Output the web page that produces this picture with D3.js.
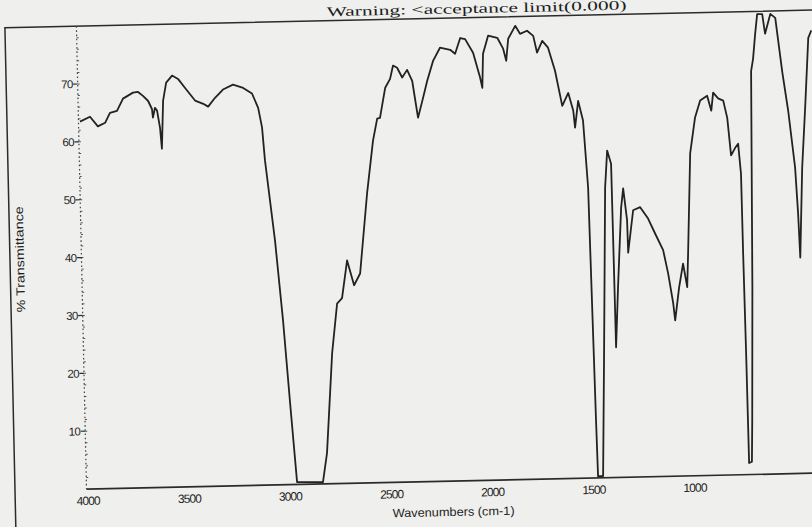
<!DOCTYPE html>
<html>
<head>
<meta charset="utf-8">
<script src="https://cdn.jsdelivr.net/npm/d3@7"></script>
<style>
  html, body { margin: 0; padding: 0; background: #efefed; overflow: hidden; }
  svg { display: block; }
</style>
</head>
<body>
<svg id="chart" width="812" height="527"></svg>
<script>
// ---- data ----
const titleText = "Warning: <acceptance limit(0.000)";
const xTitle = "Wavenumbers (cm-1)";
const yTitle = "% Transmittance";
const xTicks = [4000, 3500, 3000, 2500, 2000, 1500, 1000];
const yTicks = [10, 20, 30, 40, 50, 60, 70];

const wavenumbers = [
  4000, 3950, 3912, 3876, 3851, 3816, 3785, 3735, 3710, 3686, 3661, 3643, 3639, 3628, 3618,
  3605, 3598, 3587, 3570, 3540, 3511, 3477, 3429, 3389, 3365, 3330, 3290, 3240, 3190, 3147,
  3118, 3101, 3090, 3049, 3018, 2992, 2966, 2838, 2815, 2779, 2749, 2724, 2695, 2663, 2632,
  2589, 2554, 2531, 2517, 2488, 2463, 2447, 2427, 2403, 2378, 2354, 2329, 2302, 2280, 2248,
  2213, 2163, 2139, 2112, 2088, 2050, 2018, 2008, 2001, 1974, 1929, 1901, 1887, 1875, 1839,
  1816, 1781, 1751, 1734, 1707, 1679, 1647, 1615, 1584, 1561, 1554, 1536, 1514, 1496, 1488,
  1482, 1478, 1453, 1435, 1412, 1398, 1380, 1378, 1375, 1359, 1335, 1323, 1307, 1305, 1276,
  1241, 1203, 1170, 1132, 1110, 1088, 1080, 1057, 1035, 1017, 1009, 988, 960, 933, 898,
  879, 868, 844, 819, 801, 786, 765, 750, 739, 737, 733, 730, 716, 710, 695,
  678, 667, 654, 642, 617, 605, 577, 553, 524, 499, 471, 461, 455, 436, 414,
  392, 376
];
const transmittance = [
  63.5, 64.3, 62.6, 63.2, 64.9, 65.2, 67.3, 68.3, 68.4, 67.7, 66.8, 65.4, 63.9, 65.6, 65.1,
  62.1, 58.5, 66.8, 69.9, 71.1, 70.5, 68.9, 66.7, 66.1, 65.6, 67.1, 68.5, 69.3, 68.7, 67.7,
  65.2, 61.8, 56.1, 42.2, 28.4, 14.1, 0.4, 0.3, 5.3, 22.5, 31.1, 32.0, 38.5, 34.2, 36.2,
  50.0, 59.1, 62.9, 63.0, 68.2, 69.7, 72.0, 71.6, 69.9, 71.2, 69.3, 62.9, 66.3, 69.2, 72.7,
  74.9, 74.5, 73.8, 76.5, 76.3, 73.9, 69.6, 67.8, 73.7, 76.8, 76.4, 74.5, 72.4, 76.2, 78.4,
  77.0, 77.5, 76.6, 73.7, 75.7, 74.5, 70.5, 64.4, 66.6, 63.5, 60.6, 65.2, 61.8, 50.2, 27.2,
  10.0, 0.3, 0.3, 21.5, 50.1, 56.5, 54.2, 42.2, 22.5, 32.8, 46.6, 49.9, 44.4, 38.8, 46.1,
  46.6, 44.6, 42.0, 39.1, 35.1, 29.9, 26.9, 32.6, 36.7, 32.6, 38.4, 55.7, 61.9, 64.8, 65.6,
  63.0, 66.1, 65.1, 64.7, 61.7, 55.2, 56.5, 57.2, 52.0, 38.2, 21.0, 2.0, 2.2, 9.4, 32.3,
  69.7, 71.8, 76.1, 79.5, 79.5, 76.1, 79.5, 78.8, 69.4, 62.7, 52.9, 44.9, 37.3, 52.8, 63.6,
  75.2, 76.5
];

// ---- layout (unrotated frame; the scan is tilted slightly) ----
const svg = d3.select("#chart");
const W = 812, H = 527;
const plotLeft = 86.5, plotBottom = 489, plotTop = 26;

svg.append("rect").attr("width", W).attr("height", H).attr("fill", "#efefed");

const g = svg.append("g").attr("transform", "rotate(-1.25, 88, 489)");

const x = d3.scaleLinear().domain([4000, 400]).range([88, 816.3]);
const y = d3.scaleLinear().domain([0, 80]).range([plotBottom, plotTop]);

const ink = "#2b2b2b";

// outer frame (left border + top line)
g.append("path")
  .attr("d", `M15,560 V${plotTop} H900`)
  .attr("fill", "none").attr("stroke", ink).attr("stroke-width", 1.5);

// x axis line
g.append("line")
  .attr("x1", plotLeft).attr("x2", 900)
  .attr("y1", plotBottom).attr("y2", plotBottom)
  .attr("stroke", ink).attr("stroke-width", 1.7);

// y axis (dotted, as in the scan)
g.append("line")
  .attr("x1", plotLeft).attr("x2", plotLeft)
  .attr("y1", plotTop).attr("y2", plotBottom)
  .attr("stroke", "#444").attr("stroke-width", 1.2)
  .attr("stroke-dasharray", "1.6,2.6");

// minor y ticks
const minor = d3.range(2, 80, 2);
g.append("g").selectAll("line").data(minor).join("line")
  .attr("x1", plotLeft).attr("x2", plotLeft + 2)
  .attr("y1", d => y(d)).attr("y2", d => y(d))
  .attr("stroke", "#555").attr("stroke-width", 1);

// major y ticks + labels
const yAx = g.append("g");
yAx.selectAll("line").data(yTicks).join("line")
  .attr("x1", plotLeft - 4.5).attr("x2", plotLeft)
  .attr("y1", d => y(d)).attr("y2", d => y(d))
  .attr("stroke", ink).attr("stroke-width", 1.2);
yAx.selectAll("text").data(yTicks).join("text")
  .attr("x", plotLeft - 5).attr("y", d => y(d)).attr("dy", "0.36em")
  .attr("text-anchor", "end")
  .attr("font-family", "Liberation Sans, Arial, sans-serif")
  .attr("font-size", 11.5).attr("letter-spacing", -0.6)
  .attr("fill", "#1e1e1e")
  .text(d => d);

// x tick labels
g.append("g").selectAll("text").data(xTicks).join("text")
  .attr("x", d => x(d)).attr("y", plotBottom + 16)
  .attr("text-anchor", "middle")
  .attr("font-family", "Liberation Sans, Arial, sans-serif")
  .attr("font-size", 12).attr("letter-spacing", -0.9)
  .attr("fill", "#1e1e1e")
  .text(d => d);

// axis titles
g.append("text")
  .attr("x", 453).attr("y", plotBottom + 35)
  .attr("text-anchor", "middle")
  .attr("font-family", "Liberation Sans, Arial, sans-serif")
  .attr("font-size", 12).attr("fill", "#1e1e1e")
  .attr("textLength", 122).attr("lengthAdjust", "spacingAndGlyphs")
  .text(xTitle);

g.append("text")
  .attr("transform", "translate(29,258) rotate(-90)")
  .attr("text-anchor", "middle")
  .attr("font-family", "Liberation Sans, Arial, sans-serif")
  .attr("font-size", 12).attr("fill", "#1e1e1e")
  .attr("textLength", 106).attr("lengthAdjust", "spacingAndGlyphs")
  .text(yTitle);

// title, just above the frame line
g.append("text")
  .attr("x", 487).attr("y", 21.5)
  .attr("text-anchor", "middle")
  .attr("font-family", "Liberation Serif, Times New Roman, serif")
  .attr("font-size", 13.5).attr("fill", "#1e1e1e")
  .attr("textLength", 300).attr("lengthAdjust", "spacingAndGlyphs")
  .text(titleText);

// spectrum
const pts = wavenumbers.map((w, i) => [w, transmittance[i]]);
const line = d3.line().x(d => x(d[0])).y(d => y(d[1])).curve(d3.curveLinear);
g.append("path")
  .datum(pts)
  .attr("d", line)
  .attr("fill", "none")
  .attr("stroke", "#222")
  .attr("stroke-width", 1.8)
  .attr("stroke-linejoin", "round");
</script>
</body>
</html>
